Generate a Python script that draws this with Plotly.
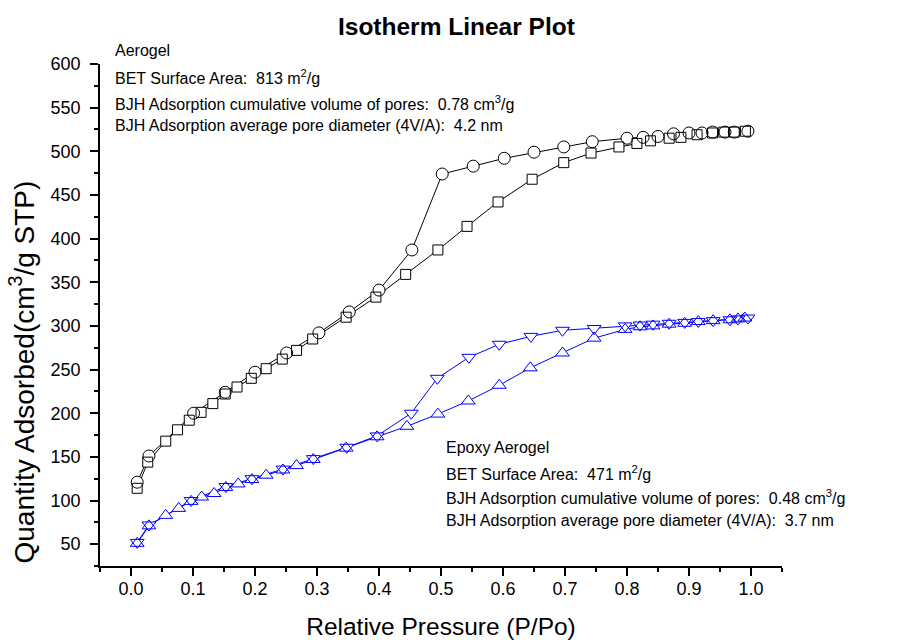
import plotly.graph_objects as go

# Relative pressure (P/Po) and quantity adsorbed (cm3/g STP)
aerogel_ads_p = [0.010, 0.027, 0.056, 0.075, 0.094, 0.113, 0.132, 0.152, 0.171, 0.194,
                 0.218, 0.244, 0.267, 0.293, 0.347, 0.395, 0.443, 0.495, 0.542, 0.592,
                 0.647, 0.698, 0.742, 0.787, 0.816, 0.838, 0.868, 0.887, 0.913, 0.938,
                 0.956, 0.973, 0.991]
aerogel_ads_q = [114, 144, 168, 181, 192, 201, 211, 222, 230, 240,
                 251, 262, 272, 285, 310, 333, 359, 387, 414, 442,
                 468, 487, 498, 505, 509, 512, 515, 516, 519, 521,
                 522, 522, 523]

aerogel_des_p = [0.995, 0.973, 0.958, 0.938, 0.921, 0.900, 0.875, 0.850, 0.826, 0.800,
                 0.744, 0.698, 0.650, 0.602, 0.552, 0.502, 0.453, 0.400, 0.352, 0.303,
                 0.251, 0.200, 0.152, 0.101, 0.029, 0.010]
aerogel_des_q = [523, 522, 522, 522, 521, 521, 520, 517, 516, 515,
                 511, 505, 499, 492, 483, 474, 387, 341, 316, 292,
                 269, 247, 224, 200, 151, 121]

epoxy_ads_p = [0.010, 0.029, 0.056, 0.077, 0.097, 0.114, 0.134, 0.153, 0.173, 0.195,
               0.218, 0.245, 0.267, 0.294, 0.347, 0.397, 0.445, 0.495, 0.544, 0.594,
               0.644, 0.696, 0.747, 0.797, 0.821, 0.842, 0.868, 0.893, 0.915, 0.939,
               0.966, 0.979, 0.990]
epoxy_ads_q = [51, 71, 83, 91, 99, 104, 108, 115, 119, 124,
               129, 135, 140, 147, 160, 173, 185, 199, 214, 232,
               252, 269, 286, 296, 299, 300, 302, 303, 305, 306,
               307, 308, 309]

epoxy_des_p = [0.995, 0.979, 0.966, 0.939, 0.915, 0.893, 0.868, 0.842, 0.821, 0.797,
               0.747, 0.696, 0.645, 0.594, 0.545, 0.494, 0.452, 0.397, 0.348, 0.294,
               0.245, 0.195, 0.153, 0.097, 0.029, 0.010]
epoxy_des_q = [309, 308, 307, 306, 305, 304, 303, 302, 301, 300,
               297, 295, 288, 279, 264, 240, 200, 174, 161, 148,
               136, 125, 116, 100, 72, 52]

x_ticks = [0.0, 0.1, 0.2, 0.3, 0.4, 0.5, 0.6, 0.7, 0.8, 0.9, 1.0]
y_ticks = [50, 100, 150, 200, 250, 300, 350, 400, 450, 500, 550, 600]

BLUE = "#0000ff"
series = [
    (aerogel_ads_p, aerogel_ads_q, "square", 10, "black"),
    (aerogel_des_p, aerogel_des_q, "circle", 12, "black"),
    (epoxy_ads_p, epoxy_ads_q, "triangle-up", 12, BLUE),
    (epoxy_des_p, epoxy_des_q, "triangle-down", 12, BLUE),
]

fig = go.Figure()
# connecting lines
for p, q, sym, size, col in series:
    fig.add_trace(go.Scatter(x=p, y=q, mode="lines",
                             line=dict(color=col, width=1), hoverinfo="skip"))
# white masks so the lines stop at the symbol outlines
for p, q, sym, size, col in series:
    fig.add_trace(go.Scatter(x=p, y=q, mode="markers",
                             marker=dict(symbol=sym, size=size, color="white",
                                         line=dict(width=0)), hoverinfo="skip"))
# hollow symbols
for p, q, sym, size, col in series:
    fig.add_trace(go.Scatter(x=p, y=q, mode="markers",
                             marker=dict(symbol=sym + "-open", size=size, color=col,
                                         line=dict(width=1, color=col))))

FONT = "Liberation Sans, Arial, sans-serif"
SP = "\u00a0\u00a0"

def note(lines, x0, ys):
    for text, y in zip(lines, ys):
        fig.add_annotation(text=text, xref="paper", yref="paper", x=x0, y=y,
                           xanchor="left", yanchor="middle", showarrow=False,
                           font=dict(family=FONT, size=16, color="black"))

note(["Aerogel",
      "BET Surface Area:" + SP + "813 m<sup>2</sup>/g",
      "BJH Adsorption cumulative volume of pores:" + SP + "0.78 cm<sup>3</sup>/g",
      "BJH Adsorption average pore diameter (4V/A):" + SP + "4.2 nm"],
     0.019, [1.026, 0.974, 0.922, 0.878])

note(["Epoxy Aerogel",
      "BET Surface Area:" + SP + "471 m<sup>2</sup>/g",
      "BJH Adsorption cumulative volume of pores:" + SP + "0.48 cm<sup>3</sup>/g",
      "BJH Adsorption average pore diameter (4V/A):" + SP + "3.7 nm"],
     0.505, [0.237, 0.185, 0.137, 0.090])

# vertical axis title, set slightly low beside the axis
fig.add_annotation(text="Quantity Adsorbed(cm<sup>3</sup>/g STP)", textangle=-90,
                   xref="paper", yref="paper", x=-0.114, y=0.386,
                   xanchor="center", yanchor="middle", showarrow=False,
                   font=dict(family=FONT, size=28, color="black"))

axis_common = dict(showline=True, linecolor="black", linewidth=1.5,
                   ticks="outside", ticklen=8, tickwidth=1.5, tickcolor="black",
                   showgrid=False, zeroline=False, mirror=False, automargin=False,
                   tickfont=dict(family=FONT, size=18, color="black"))

fig.update_layout(
    width=902, height=640,
    margin=dict(l=100, r=120, t=64, b=74),
    paper_bgcolor="white", plot_bgcolor="white",
    showlegend=False,
    font=dict(family=FONT, color="black"),
    title=dict(text="<b>Isotherm Linear Plot</b>", x=0.506, xanchor="center",
               y=0.958, yanchor="middle", yref="container", automargin=False,
               font=dict(family=FONT, size=24.5, color="black")),
    xaxis=dict(range=[-0.05, 1.05], tickvals=x_ticks,
               ticktext=[f"{v:.1f}" for v in x_ticks],
               ticklabelstandoff=-2,
               minor=dict(dtick=0.05, tick0=0, ticks="outside", ticklen=4,
                          tickwidth=1.5, tickcolor="black"),
               title=dict(text="Relative Pressure (P/Po)", standoff=28,
                          font=dict(family=FONT, size=24.5, color="black")),
               **axis_common),
    yaxis=dict(range=[25, 600], tickvals=y_ticks,
               ticklabelstandoff=6,
               minor=dict(dtick=25, tick0=0, ticks="outside", ticklen=4,
                          tickwidth=1.5, tickcolor="black"),
               **axis_common),
)

fig.write_html("out.html")
